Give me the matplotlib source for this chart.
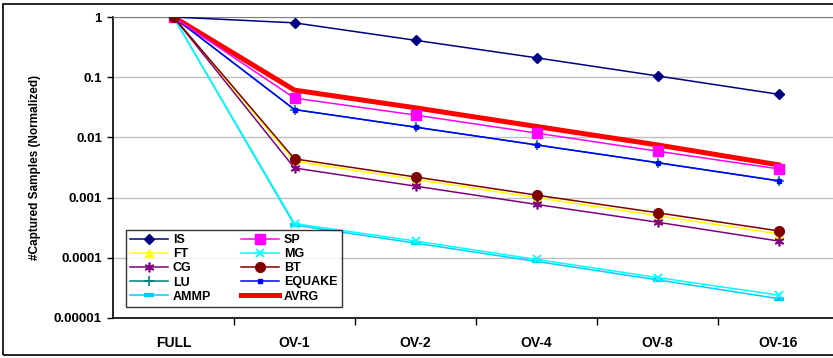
import numpy as np
import matplotlib
matplotlib.use('Agg')
import matplotlib.pyplot as plt
from matplotlib.patches import Rectangle

plt.rcParams['font.family'] = ['Liberation Sans', 'DejaVu Sans']
plt.rcParams['font.weight'] = 'bold'

categories = ['FULL', 'OV-1', 'OV-2', 'OV-4', 'OV-8', 'OV-16']

IS = [1, 0.8, 0.41, 0.21, 0.105, 0.052]
SP = [1, 0.045, 0.0235, 0.0118, 0.0059, 0.003]
FT = [1, 0.0040, 0.0020, 0.0010, 0.00050, 0.00025]
MG = [1, 0.00037, 0.00019, 0.000094, 0.000047, 0.000024]
CG = [1, 0.0031, 0.00155, 0.00077, 0.00039, 0.00019]
BT = [1, 0.0044, 0.0022, 0.0011, 0.00056, 0.00028]
LU = [1, 0.029, 0.0148, 0.0075, 0.0038, 0.0019]
EQUAKE = [1, 0.029, 0.0148, 0.0075, 0.0038, 0.0019]
AMMP = [1, 0.00035, 0.000175, 0.000087, 0.000043, 0.000021]
AVRG = [1, 0.061, 0.031, 0.0152, 0.0075, 0.0035]

fig = plt.figure(figsize=(8.33, 3.58), dpi=100)
ax = fig.add_axes([113/833, 40/358, 726/833, 301/358])
x = np.arange(len(categories))

lw = 1.1
ax.plot(x, IS, color='#000080', marker='D', ms=5, lw=lw, label='IS', zorder=5)
ax.plot(x, SP, color='#FF00FF', marker='s', ms=7, lw=lw, label='SP', zorder=5)
ax.plot(x, FT, color='#FFFF00', marker='^', ms=6, lw=lw, label='FT', zorder=4)
ax.plot(x, MG, color='#00FFFF', marker='x', ms=6, mew=1.3, lw=lw, label='MG', zorder=4)
ax.plot(x, CG, color='#800080', marker=(6, 2, 0), ms=7, mew=1.2, lw=lw, label='CG', zorder=4)
ax.plot(x, BT, color='#800000', marker='o', ms=7, lw=lw, label='BT', zorder=5)
ax.plot(x, LU, color='#008080', marker='+', ms=7, mew=1.2, lw=lw, label='LU', zorder=4)
ax.plot(x, EQUAKE, color='#0000FF', marker='s', ms=3, lw=lw, label='EQUAKE', zorder=4)
ax.plot(x, AMMP, color='#00CCFF', marker='_', ms=7, mew=3, lw=lw, label='AMMP', zorder=3)
ax.plot(x, AVRG, color='#FF0000', lw=3.6, label='AVRG', zorder=3)

ax.set_yscale('log')
ax.set_ylim(1e-5, 1)
ax.set_xlim(-0.5, len(categories) - 0.5)
ax.set_yticks([1, 0.1, 0.01, 0.001, 0.0001, 0.00001])
ax.set_yticklabels(['1', '0.1', '0.01', '0.001', '0.0001', '0.00001'], fontweight='bold')
ax.yaxis.set_minor_locator(matplotlib.ticker.NullLocator())
ax.tick_params(axis='y', labelsize=9.5, length=4, width=1, pad=4)
ax.grid(axis='y', color='#C0C0C0', lw=1)
ax.set_axisbelow(True)

ax.set_xticks(x)
ax.set_xticklabels(categories, fontweight='bold')
ax.set_xticks(np.arange(0.5, len(categories) - 0.5), minor=True)
ax.tick_params(axis='x', which='major', length=0, labelsize=10, pad=13)
ax.tick_params(axis='x', which='minor', length=5, width=1)

ax.set_ylabel('#Captured Samples (Normalized)', fontsize=8.5, fontweight='bold', labelpad=9)

for s in ['left', 'bottom']:
    ax.spines[s].set_linewidth(1.2)
ax.spines['top'].set_color('#808080')
ax.spines['right'].set_visible(False)

handles, labels = ax.get_legend_handles_labels()
order = [0, 2, 4, 6, 8, 1, 3, 5, 7, 9]
leg = ax.legend([handles[i] for i in order], [labels[i] for i in order],
                ncol=2, loc='lower left', bbox_to_anchor=(13/726, 11/301),
                prop={'size': 9, 'weight': 'bold'}, frameon=True, fancybox=False,
                edgecolor='black', handlelength=3.0, handletextpad=0.4, columnspacing=2.4,
                labelspacing=0.17, borderpad=0.35, borderaxespad=0)
leg.get_frame().set_linewidth(1.0)

fig.patches.append(Rectangle((3/833, 3/358), 840/833, 351/358, transform=fig.transFigure,
                             fill=False, edgecolor='black', lw=1.2))

fig.savefig('out.png', dpi=100)
